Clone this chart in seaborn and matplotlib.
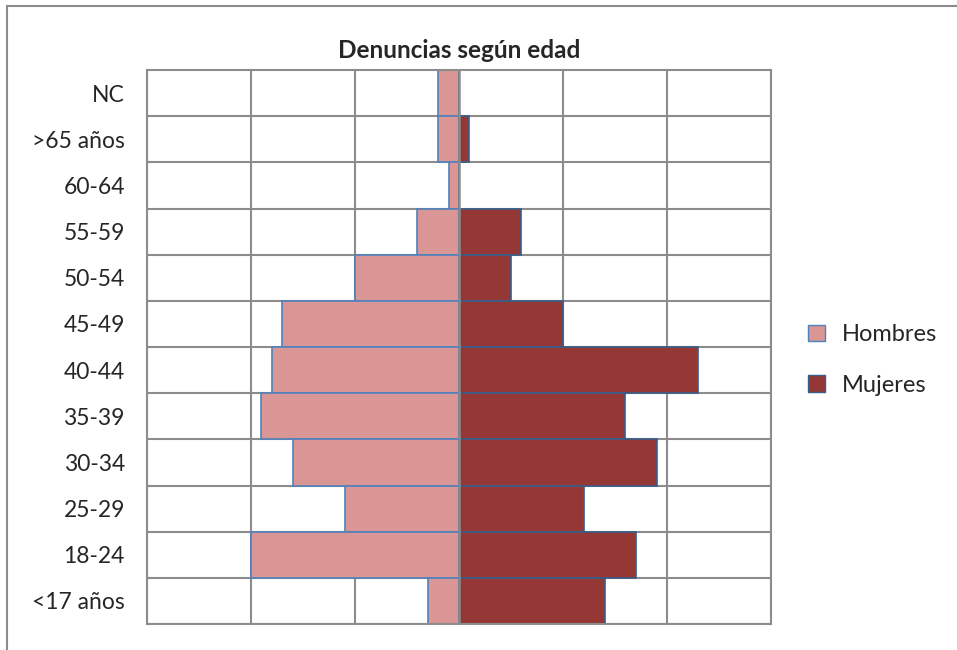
import numpy as np
import pandas as pd
import seaborn as sns
import matplotlib.pyplot as plt
from matplotlib.patches import Patch, Rectangle

# age groups, top to bottom as in the chart
edades = ['NC', '>65 años', '60-64', '55-59', '50-54', '45-49',
          '40-44', '35-39', '30-34', '25-29', '18-24', '<17 años']
hombres = [2, 2, 1, 4, 10, 17, 18, 19, 16, 11, 20, 3]
mujeres = [0, 1, 0, 6, 5, 10, 23, 16, 19, 12, 17, 14]

col_h = '#D99694'
col_m = '#953735'
grid_col = '#8C8C8C'

df = pd.DataFrame({'edad': edades, 'Hombres': [-v for v in hombres], 'Mujeres': mujeres})

sns.set_style('white')
plt.rcParams['font.family'] = ['Lato', 'DejaVu Sans']

fig = plt.figure(figsize=(9.57, 6.5), dpi=100)
ax = fig.add_axes([147 / 957, 1 - 624 / 650, 624 / 957, 554 / 650])

sns.barplot(data=df, y='edad', x='Hombres', order=edades, color=col_h, width=1.0,
            edgecolor='#4F81BD', linewidth=1.2, saturation=1, ax=ax, zorder=2)
sns.barplot(data=df, y='edad', x='Mujeres', order=edades, color=col_m, width=1.0,
            edgecolor='#385D8A', linewidth=1.2, saturation=1, ax=ax, zorder=2)

ax.set_xlim(-30, 30)
ax.set_ylim(len(edades) - 0.5, -0.5)
ax.set_xticks(np.arange(-30, 31, 10))
ax.set_xticklabels([])
ax.set_yticks(np.arange(len(edades)) + 0.5, minor=True)
ax.tick_params(axis='both', which='both', length=0)
ax.tick_params(axis='y', labelsize=16.5, pad=16)
ax.grid(True, axis='x', which='major', color=grid_col, linewidth=1.5)
ax.grid(True, axis='y', which='minor', color=grid_col, linewidth=1.5)
ax.set_axisbelow(True)
ax.axvline(0, color=grid_col, linewidth=1.8, zorder=5)
for s in ax.spines.values():
    s.set_color(grid_col)
    s.set_linewidth(1.5)
ax.set_xlabel('')
ax.set_ylabel('')

ax.set_title('Denuncias según edad', fontsize=17.5, fontweight='bold', pad=9)

handles = [Patch(facecolor=col_h, edgecolor='#4F81BD', label='Hombres'),
           Patch(facecolor=col_m, edgecolor='#385D8A', label='Mujeres')]
fig.legend(handles=handles, loc='center left', bbox_to_anchor=(808 / 957, 1 - 360 / 650),
           frameon=False, fontsize=17, handlelength=0.7, handleheight=0.7,
           handletextpad=0.75, labelspacing=1.25, borderpad=0, borderaxespad=0)

# outer chart border (only top and left visible)
fig.patches.append(Rectangle((7 / 957, -0.1), 1.2, 1 - 6 / 650 + 0.1, transform=fig.transFigure,
                             fill=False, edgecolor='#8C8C8C', linewidth=1.5))

fig.savefig('out.png', dpi=100)
